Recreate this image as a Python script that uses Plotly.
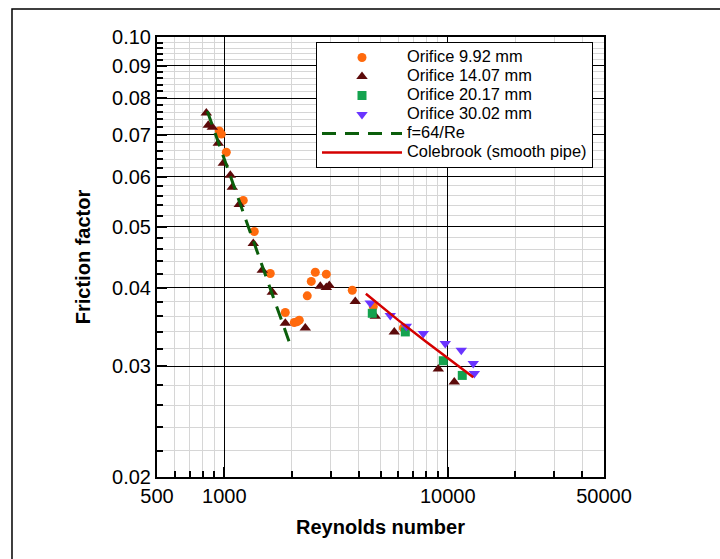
import plotly.graph_objects as go

# ---- data ----
re_992 = [950, 970, 1021, 1216, 1362, 1606, 1875, 2057, 2122, 2166, 2351, 2450, 2554, 2861, 3739, 4642, 6326]
f_992 = [0.0709, 0.0701, 0.0656, 0.0550, 0.0491, 0.0421, 0.0365, 0.0352, 0.0353, 0.0355, 0.0388, 0.0409, 0.0423, 0.0420, 0.0396, 0.0373, 0.0345]

re_1407 = [831, 848, 884, 940, 990, 1064, 1086, 1167, 1348, 1479, 1640, 1875, 2304, 2689, 2861, 2951, 3856, 4738, 5764, 9070, 10693]
f_1407 = [0.0757, 0.0724, 0.0719, 0.0678, 0.0630, 0.0603, 0.0577, 0.0542, 0.0470, 0.0426, 0.0393, 0.0351, 0.0345, 0.0402, 0.0400, 0.0403, 0.0380, 0.0360, 0.0340, 0.0297, 0.0283]

re_2017 = [4594, 6457, 9548, 11610]
f_2017 = [0.0364, 0.0340, 0.0306, 0.0290]

re_3002 = [4500, 5530, 6524, 7771, 9745, 11490, 13000, 13140]
f_3002 = [0.0378, 0.0361, 0.0347, 0.0338, 0.0326, 0.0318, 0.0303, 0.0292]

re_lam = [840, 2000]
f_lam = [0.0762, 0.0320]

re_cole = [4300, 6000, 8000, 10000, 13000]
f_cole = [0.0391, 0.0355, 0.0328, 0.0309, 0.0288]

x_tickvals = [500, 1000, 10000, 50000]
x_ticktext = ["500", "1000", "10000", "50000"]
y_tickvals = [0.02, 0.03, 0.04, 0.05, 0.06, 0.07, 0.08, 0.09, 0.10]
y_ticktext = ["0.02", "0.03", "0.04", "0.05", "0.06", "0.07", "0.08", "0.09", "0.10"]

x_minor = [600, 700, 800, 900, 2000, 3000, 4000, 5000, 6000, 7000, 8000, 9000, 20000, 30000, 40000]
y_minor = [round(0.02 + 0.002 * i, 3) for i in range(1, 40) if i % 5 != 0]

FONT = "Liberation Sans, Arial, sans-serif"
LS = 16.4  # legend text size


def lname(s):
    return f"<span style='font-size:{LS}px'>{s}</span>"


fig = go.Figure()
fig.add_trace(go.Scatter(x=re_992, y=f_992, mode="markers", name=lname("Orifice 9.92 mm"),
                         marker=dict(symbol="circle", size=9, color="#ff6a0d")))
fig.add_trace(go.Scatter(x=re_1407, y=f_1407, mode="markers", name=lname("Orifice 14.07 mm"),
                         marker=dict(symbol="triangle-up", size=10, color="#5c0a0a")))
fig.add_trace(go.Scatter(x=re_2017, y=f_2017, mode="markers", name=lname("Orifice 20.17 mm"),
                         marker=dict(symbol="square", size=9, color="#14a34f")))
fig.add_trace(go.Scatter(x=re_3002, y=f_3002, mode="markers", name=lname("Orifice 30.02 mm"),
                         marker=dict(symbol="triangle-down", size=10, color="#6a35ff")))
fig.add_trace(go.Scatter(x=re_lam, y=f_lam, mode="lines", name=lname("f=64/Re"),
                         line=dict(color="#0b5e0b", width=3, dash="14px,9px")))
fig.add_trace(go.Scatter(x=re_cole, y=f_cole, mode="lines", name=lname("Colebrook (smooth pipe)"),
                         line=dict(color="#d40000", width=2.5)))

axis_common = dict(
    showline=True, linecolor="black", linewidth=2, mirror=True,
    ticks="inside", ticklen=10, tickwidth=1.5, tickcolor="black",
    showgrid=True, gridcolor="black", gridwidth=1,
    tickfont=dict(family=FONT, size=20, color="black"),
    zeroline=False,
)

fig.update_xaxes(
    type="log", range=[2.69897, 4.69897],
    tickvals=x_tickvals, ticktext=x_ticktext,
    minor=dict(tickvals=x_minor, ticks="inside", ticklen=6, tickcolor="black",
               showgrid=True, gridcolor="#d6d6d6", gridwidth=1),
    title=dict(text="<b>Reynolds number</b>", font=dict(family=FONT, size=20, color="black"), standoff=14),
    **axis_common,
)
fig.update_yaxes(
    type="log", range=[-1.69897, -1.0],
    tickvals=y_tickvals, ticktext=y_ticktext,
    minor=dict(tickvals=y_minor, ticks="inside", ticklen=6, tickcolor="black",
               showgrid=True, gridcolor="#d6d6d6", gridwidth=1),
    title=dict(text="<b>Friction factor</b>", font=dict(family=FONT, size=20, color="black"), standoff=16),
    **axis_common,
)

fig.add_shape(type="rect", xref="paper", yref="paper",
              x0=-0.3244, x1=1.4, y0=-0.3, y1=1.0636,
              line=dict(color="black", width=1.5), layer="below")

fig.update_layout(
    width=720, height=559,
    margin=dict(l=157, r=116, t=37, b=82),
    paper_bgcolor="white", plot_bgcolor="white",
    font=dict(family=FONT, color="black"),
    showlegend=True,
    legend=dict(x=0.3557, y=0.9886, xanchor="left", yanchor="top",
                bgcolor="white", bordercolor="black", borderwidth=1,
                font=dict(family=FONT, size=12, color="black"),
                itemwidth=80, tracegroupgap=0),
)

fig.write_html("out.html")
